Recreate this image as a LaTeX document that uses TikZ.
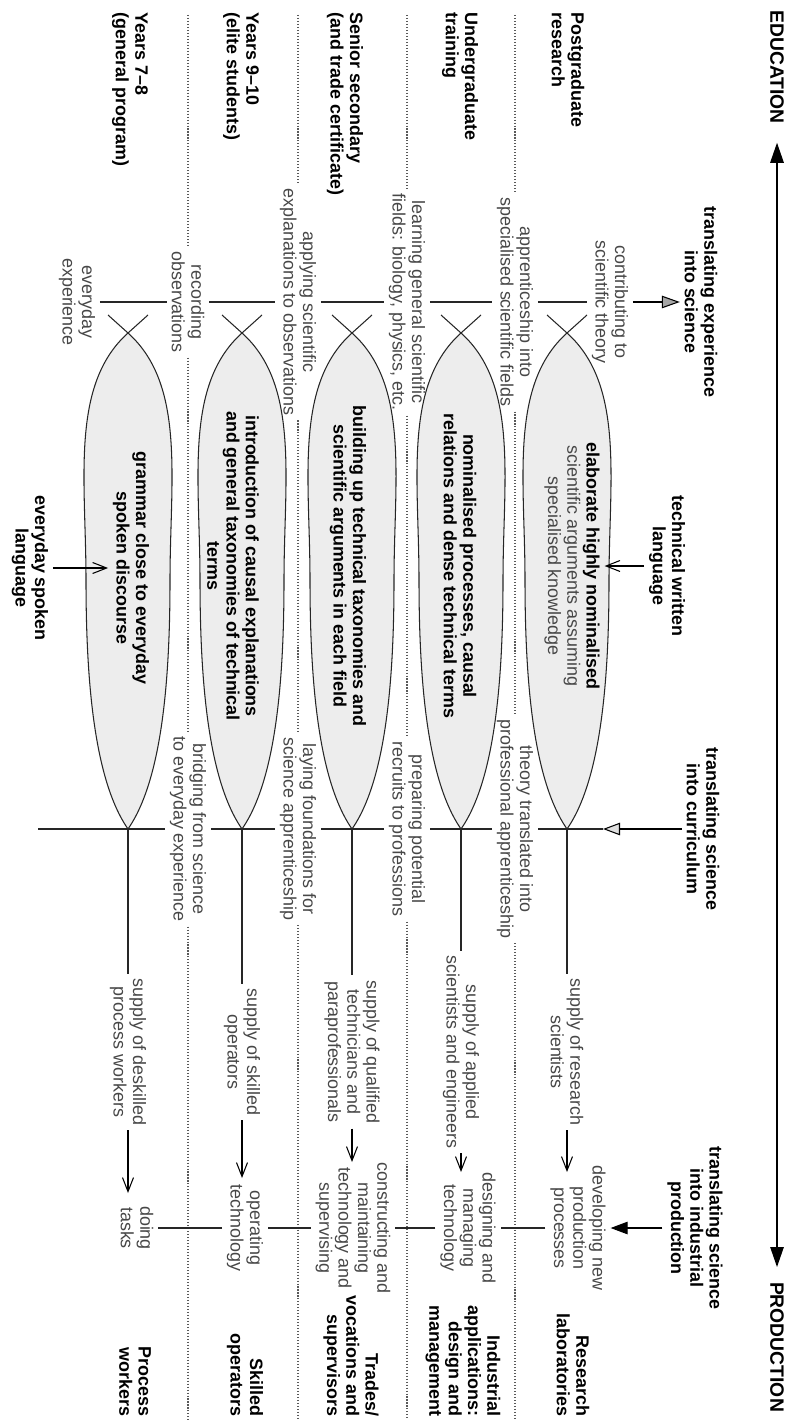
\documentclass[tikz,border=0pt]{standalone}
\usepackage{fontspec}
\setmainfont{Liberation Sans}
\usetikzlibrary{arrows.meta, positioning, calc}

\newcommand{\labelsize}{\fontsize{10.2}{11}\selectfont}

% lens: crossed tail on the left, point on the right
\newcommand{\drawlens}[2]{%
  \filldraw[lensfill, shift={(0,#2)}] (333,0) .. controls (385,58) and (480,42) .. (580,42)
    .. controls (680,42) and (780,34) .. (829,0)
    .. controls (780,-34) and (680,-42) .. (580,-42)
    .. controls (480,-42) and (385,-58) .. (333,0) -- cycle;
  \draw[lensline, shift={(0,#2)}] (315,20) -- (333,0) -- (315,-20);
  \coordinate (#1) at (829,#2);
}

\begin{document}
\begin{tikzpicture}[x=0.02cm, y=0.02cm, rotate=-90, transform shape, line width=0.6pt,
    >={Straight Barb[length=0.28cm, width=0.22cm]}]
        \tikzstyle{topic} = [font=\bfseries\labelsize, align=center, inner sep=2.5pt]
        \tikzstyle{lbl} = [font=\labelsize, text=black!72, align=center, inner sep=2.5pt]
        \tikzstyle{levelL} = [topic, align=left, anchor=west]
        \tikzstyle{levelR} = [topic, align=right, anchor=east]
        \tikzstyle{bighead} = [font=\bfseries\fontsize{11}{13}\selectfont, inner sep=2pt]
        \tikzstyle{lensline} = [draw=black!85]
        \tikzstyle{lensfill} = [lensline, fill=black!7]
        \tikzstyle{tick} = [draw=black!85]
        \tikzstyle{divider} = [draw=black!65, dash pattern=on 0.6pt off 1.1pt]

        \useasboundingbox (0,0) rectangle (1425,795);

        % the five lenses
        \drawlens{tipA}{567}
        \drawlens{tipB}{461}
        \drawlens{tipC}{352}
        \drawlens{tipD}{242}
        \drawlens{tipE}{128}

        \node[bighead] (edu) at (67,777) {EDUCATION};
        \node[bighead] (prod) at (1347,777) {PRODUCTION};
        \draw[{Triangle[length=0.4cm, width=0.27cm]}-{Triangle[length=0.4cm, width=0.27cm]}, line width=0.7pt, shorten <=0.3cm, shorten >=0.22cm] (edu) -- (prod);

        \node[topic] (transExp) at (302,701) {translating experience\\into science};
        \node[topic] (techWritten) at (566,667) {technical written\\language};
        \node[topic] (transCurr) at (829,703) {translating science\\into curriculum};
        \node[topic] (transInd) at (1228,695) {translating science\\into industrial\\production};

        % levels of education
        \node[levelL] (pg) at (8,568) {Postgraduate\\research};
        \node[levelL] (ug) at (8,460) {Undergraduate\\training};
        \node[levelL] (ss) at (8,345) {Senior secondary\\(and trade certificate)};
        \node[levelL] (y910) at (8,241) {Years 9--10\\(elite students)};
        \node[levelL] (y78) at (8,130) {Years 7--8\\(general program)};

        % levels of production
        \node[levelR] (lab) at (1421,573) {Research\\laboratories};
        \node[levelR] (ind) at (1421,463) {Industrial\\applications:\\design and\\management};
        \node[levelR] (trades) at (1421,351) {Trades/\\vocations and\\supervisors};
        \node[levelR] (skilled) at (1421,245) {Skilled\\operators};
        \node[levelR] (process) at (1421,135) {Process\\workers};

        % inside the lenses
        \node[lbl] (elab) at (566,572) {{\color{black}\bfseries elaborate highly nominalised}\\scientific arguments assuming\\specialised knowledge};
        \node[topic] (nomin) at (566,460) {nominalised processes, causal\\relations and dense technical terms};
        \node[topic] (build) at (566,348) {building up technical taxonomies and\\scientific arguments in each field};
        \node[topic] (intro) at (566,233) {introduction of causal explanations\\and general taxonomies of technical\\terms};
        \node[topic] (gram) at (568,131) {grammar close to everyday\\spoken discourse};
        \node[topic] (spoken) at (568,30) {everyday spoken\\language};

        % labels on the left bar
        \node[lbl] (contrib) at (302,610) {contributing to\\scientific theory};
        \node[lbl] (appr) at (302,515) {apprenticeship into\\specialised scientific fields};
        \node[lbl] (learn) at (302,407) {learning general scientific\\fields: biology, physics, etc.};
        \node[lbl] (apply) at (302,298) {applying scientific\\explanations to observations};
        \node[lbl] (record) at (302,188) {recording\\observations};
        \node[lbl] (everyExp) at (302,77) {everyday\\experience};

        % labels on the right bar
        \node[lbl] (theory) at (829,515) {theory translated into\\professional apprenticeship};
        \node[lbl] (prep) at (829,407) {preparing potential\\recruits to professions};
        \node[lbl] (lay) at (829,298) {laying foundations for\\science apprenticeship};
        \node[lbl] (bridge) at (829,188) {bridging from science\\to everyday experience};

        % supply
        \node[lbl] (supA) at (1052,567) {supply of research\\scientists};
        \node[lbl] (supB) at (1052,461) {supply of applied\\scientists and engineers};
        \node[lbl] (supC) at (1052,352) {supply of qualified\\technicians and\\paraprofessionals};
        \node[lbl] (supD) at (1052,242) {supply of skilled\\operators};
        \node[lbl] (supE) at (1052,128) {supply of deskilled\\process workers};

        % production tasks
        \node[lbl] (dev) at (1228,578) {developing new\\production\\processes};
        \node[lbl] (design) at (1228,468) {designing and\\managing\\technology};
        \node[lbl] (construct) at (1228,353) {constructing and\\maintaining\\technology and\\supervising};
        \node[lbl] (operate) at (1228,245) {operating\\technology};
        \node[lbl] (doing) at (1228,137) {doing\\tasks};

        \coordinate (currIn) at (829,603);
        \coordinate (barEnd) at (829,38);
        \coordinate (devIn) at (1172,567);
        \coordinate (designIn) at (1172,461);
        \coordinate (constructIn) at (1162,352);
        \coordinate (operateIn) at (1178,242);
        \coordinate (doingIn) at (1193,128);

        % dotted dividers
        \coordinate (dAL) at (15,515);  \coordinate (dAR) at (1420,515);
        \coordinate (dBL) at (15,407);  \coordinate (dBR) at (1420,407);
        \coordinate (dCL) at (15,298);  \coordinate (dCR) at (1420,298);
        \coordinate (dDL) at (15,188);  \coordinate (dDR) at (1420,188);
        \draw[divider] (dAL) -- (appr) -- (theory) -- (dAR);
        \draw[divider] (dBL) -- (learn) -- (prep) -- (dBR);
        \draw[divider] (dCL) -- (apply) -- (lay) -- (dCR);
        \draw[divider] (dDL) -- (record) -- (bridge) -- (dDR);

        % left bar
        \draw[tick] (appr) -- (contrib);
        \draw[tick] (learn) -- (appr);
        \draw[tick] (apply) -- (learn);
        \draw[tick] (record) -- (apply);
        \draw[tick] (everyExp) -- (record);
        \draw[-{Triangle[length=0.36cm, width=0.25cm, fill=black!35]}] (contrib) -- (transExp);

        % right bar
        \draw[-{Triangle[length=0.34cm, width=0.25cm, fill=black!12]}] (transCurr) -- (currIn);
        \draw[tick] (currIn) -- (theory);
        \draw[tick] (theory) -- (prep);
        \draw[tick] (prep) -- (lay);
        \draw[tick] (lay) -- (bridge);
        \draw[tick] (bridge) -- (barEnd);

        % written and spoken language
        \draw[->] (techWritten) -- (elab);
        \draw[->] (spoken) -- (gram);

        % from lens tips to production
        \draw[tick] (tipA) -- (supA);
        \draw[tick] (tipB) -- (supB);
        \draw[tick] (tipC) -- (supC);
        \draw[tick] (tipD) -- (supD);
        \draw[tick] (tipE) -- (supE);
        \draw[->] (supA) -- (devIn);
        \draw[->] (supB) -- (designIn);
        \draw[->] (supC) -- (constructIn);
        \draw[->] (supD) -- (operateIn);
        \draw[->] (supE) -- (doingIn);

        % production bar
        \draw[-{Triangle[length=0.34cm, width=0.25cm]}] (transInd) -- (dev);
        \draw[tick] (dev) -- (design);
        \draw[tick] (design) -- (construct);
        \draw[tick] (construct) -- (operate);
        \draw[tick] (operate) -- (doing);
    \end{tikzpicture}
\end{document}
